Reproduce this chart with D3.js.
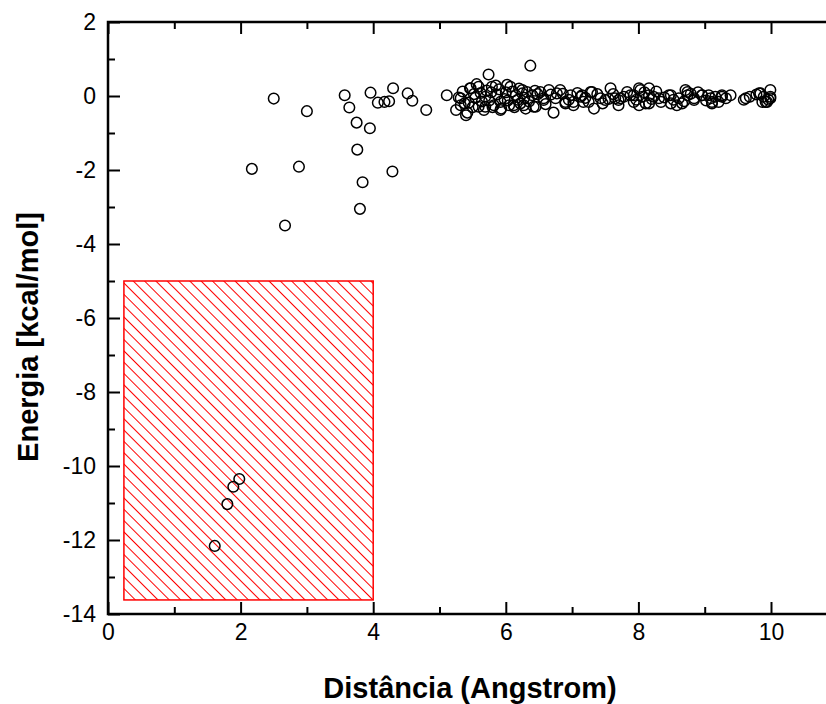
<!DOCTYPE html>
<html lang="en">
<head>
<meta charset="UTF-8">
<title>Energia vs Distância</title>
<script src="https://d3js.org/d3.v7.min.js"></script>
<style>
  body { margin: 0; background: #fff; }
  text { font-family: "Liberation Sans", Arial, sans-serif; }
</style>
</head>
<body>
<script>
// values
var distancia = [
  2.50, 3.00, 3.57, 3.96, 4.30, 4.52, 4.59, 4.80, 3.64, 4.07, 4.17, 4.24,
  3.75, 3.95, 3.76, 2.17, 2.88, 4.29, 3.84, 3.80, 2.67,
  1.98, 1.89, 1.80, 1.61,
  6.37, 5.74, 5.11, 5.29, 5.46, 5.59, 5.79, 6.07, 5.40, 5.32, 5.44, 5.67,
  5.93, 6.15, 5.54, 5.69, 5.87, 6.00, 5.82, 6.05, 6.22, 6.25, 5.59,
  6.32, 6.40, 6.27, 6.45, 6.57, 6.72, 6.75, 6.90, 6.98, 7.13, 7.17, 7.30,
  7.33, 7.43, 7.50, 7.58, 7.65, 6.52, 6.65, 6.82, 7.02, 7.25, 7.70,
  7.73, 7.83, 7.93, 8.01, 8.06, 8.16, 8.16, 8.31, 8.46, 8.49, 8.61, 8.71,
  8.74, 8.84, 8.96, 9.09, 8.16, 7.88, 8.01, 8.66,
  9.06, 9.16, 9.26, 9.39, 9.11, 9.21, 9.62, 9.82, 9.89, 9.99, 9.99, 9.94, 9.87,
  5.32, 5.47, 5.92, 6.25, 5.69, 5.92, 6.12, 6.30, 6.42, 6.57, 6.77, 6.90,
  7.02, 7.15, 7.28, 7.70, 7.93, 8.03, 8.11, 8.23, 8.34, 8.49, 8.58, 8.74,
  8.84, 8.96, 9.11, 9.26, 9.59, 9.84, 9.99, 9.92,
  5.35, 5.50, 5.62, 5.75, 5.85, 5.98, 6.10, 6.18, 5.25, 5.42, 5.56, 5.78,
  6.02, 6.35, 6.48,
  5.38, 5.52, 5.64, 5.71, 5.80, 5.90, 6.03, 6.13, 6.20, 6.28, 6.44, 6.60,
  6.68, 6.86, 6.95, 7.08, 7.20, 7.38, 7.46, 7.55, 7.62, 7.78, 7.97, 8.09,
  8.20, 8.27, 8.39, 8.53, 8.69, 8.79, 8.90, 9.02, 9.32, 9.68, 9.78, 9.96
];
var energia = [
  -0.07, -0.41, 0.02, 0.09, 0.21, 0.07, -0.13, -0.38, -0.31, -0.18, -0.16, -0.14,
  -0.72, -0.87, -1.45, -1.97, -1.91, -2.04, -2.33, -3.05, -3.50,
  -10.35, -10.56, -11.03, -12.16,
  0.82, 0.58, 0.02, -0.04, 0.21, 0.25, 0.25, 0.25, -0.52, -0.25, -0.18, -0.38,
  -0.34, 0.02, -0.05, -0.02, 0.04, 0.10, -0.25, -0.25, -0.20, 0.07, -0.29,
  0.11, 0.02, -0.25, -0.29, -0.06, -0.45, -0.06, -0.20, 0.02, -0.02, -0.16, 0.11,
  -0.34, -0.06, -0.11, 0.21, -0.06, 0.11, 0.16, 0.16, -0.16, -0.16, -0.25,
  -0.06, 0.11, -0.16, 0.21, -0.02, 0.02, -0.20, -0.06, 0.02, -0.20, -0.06, 0.16,
  0.02, -0.06, 0.02, -0.06, 0.21, 0.02, -0.25, -0.20,
  0.02, -0.02, -0.02, 0.02, -0.20, -0.16, -0.06, 0.07, -0.02, 0.16, -0.02, -0.16, -0.16,
  -0.06, 0.21, -0.16, 0.16, -0.29, -0.38, -0.25, -0.34, -0.29, -0.11, 0.07, -0.16,
  -0.25, 0.02, 0.11, -0.11, 0.02, 0.16, -0.20, -0.02, -0.16, 0.02, -0.25, 0.11,
  -0.11, 0.02, -0.16, 0.02, -0.10, 0.07, -0.06, -0.16,
  0.12, -0.30, 0.08, -0.12, 0.28, -0.08, 0.12, -0.10, -0.38, -0.45, 0.32, 0.10,
  0.30, -0.15, 0.05,
  -0.20, 0.05, -0.15, 0.15, -0.30, 0.18, -0.12, -0.30, 0.20, -0.05, 0.14, -0.22,
  0.04, 0.06, -0.10, 0.08, -0.05, 0.05, -0.20, -0.08, 0.05, -0.02, -0.10, 0.10,
  -0.08, 0.12, -0.04, -0.10, -0.14, 0.06, 0.10, -0.12, -0.06, -0.02, 0.04, -0.10
];
// shaded region
var regiaoX = [0.24, 4.0];
var regiaoY = [-13.62, -5.0];

var xMajor = [0, 2, 4, 6, 8, 10];
var xMinor = [1, 3, 5, 7, 9];
var yMajor = [2, 0, -2, -4, -6, -8, -10, -12, -14];
var yMinor = [1, -1, -3, -5, -7, -9, -11, -13];

var width = 826, height = 704;
var mLeft = 108, mTop = 22, mBottom = 614;

var x = d3.scaleLinear().domain([0, 11]).range([mLeft, mLeft + 11 * 66.3]);
var y = d3.scaleLinear().domain([-14, 2]).range([mBottom, mTop]);
var mRight = x(11);

var svg = d3.select("body").append("svg")
  .attr("width", width)
  .attr("height", height);

svg.append("rect").attr("width", width).attr("height", height).attr("fill", "#fff");

// hatch
var defs = svg.append("defs");
defs.append("pattern")
  .attr("id", "hatch")
  .attr("patternUnits", "userSpaceOnUse")
  .attr("width", 8).attr("height", 8)
  .attr("patternTransform", "rotate(45)")
  .append("rect")
  .attr("x", 0).attr("y", 0).attr("width", 8).attr("height", 1)
  .attr("fill", "#ff0000");

svg.append("rect")
  .attr("x", x(regiaoX[0]))
  .attr("y", y(regiaoY[1]))
  .attr("width", x(regiaoX[1]) - x(regiaoX[0]))
  .attr("height", y(regiaoY[0]) - y(regiaoY[1]))
  .attr("fill", "url(#hatch)")
  .attr("stroke", "#ff0000")
  .attr("stroke-width", 1.5);

// points
svg.append("g").selectAll("circle")
  .data(distancia)
  .enter().append("circle")
  .attr("cx", function(d) { return x(d); })
  .attr("cy", function(d, i) { return y(energia[i]); })
  .attr("r", 5.3)
  .attr("fill", "none")
  .attr("stroke", "#000")
  .attr("stroke-width", 1.5);

// axes, ticks pointing inwards
function styleAxis(g) {
  g.select(".domain").remove();
  g.selectAll(".tick line").attr("stroke", "#000").attr("stroke-width", 2);
  g.selectAll(".tick text")
    .attr("fill", "#000")
    .style("font-size", "23px");
}
var fmt = function(d) { return String(d); };

svg.append("g").attr("transform", "translate(0," + mBottom + ")")
  .call(d3.axisBottom(x).tickValues(xMajor).tickSize(-12).tickPadding(10).tickFormat(fmt))
  .call(styleAxis);
svg.append("g").attr("transform", "translate(0," + mBottom + ")")
  .call(d3.axisBottom(x).tickValues(xMinor).tickSize(-7).tickFormat(""))
  .call(styleAxis);
svg.append("g").attr("transform", "translate(0," + mTop + ")")
  .call(d3.axisTop(x).tickValues(xMajor).tickSize(-12).tickFormat(""))
  .call(styleAxis);
svg.append("g").attr("transform", "translate(0," + mTop + ")")
  .call(d3.axisTop(x).tickValues(xMinor).tickSize(-7).tickFormat(""))
  .call(styleAxis);

svg.append("g").attr("transform", "translate(" + mLeft + ",0)")
  .call(d3.axisLeft(y).tickValues(yMajor).tickSize(-12).tickPadding(12).tickFormat(fmt))
  .call(styleAxis);
svg.append("g").attr("transform", "translate(" + mLeft + ",0)")
  .call(d3.axisLeft(y).tickValues(yMinor).tickSize(-7).tickFormat(""))
  .call(styleAxis);
svg.append("g").attr("transform", "translate(" + mRight + ",0)")
  .call(d3.axisRight(y).tickValues(yMajor).tickSize(-11).tickFormat(""))
  .call(styleAxis);

// frame
svg.append("rect")
  .attr("x", mLeft).attr("y", mTop)
  .attr("width", mRight - mLeft).attr("height", mBottom - mTop)
  .attr("fill", "none")
  .attr("stroke", "#000")
  .attr("stroke-width", 2.5);

// titles
svg.append("text")
  .attr("x", 470)
  .attr("y", 698)
  .attr("text-anchor", "middle")
  .style("font-size", "29px")
  .style("font-weight", "bold")
  .text("Distância (Angstrom)");

svg.append("text")
  .attr("transform", "translate(38,337) rotate(-90)")
  .attr("text-anchor", "middle")
  .style("font-size", "29px")
  .style("font-weight", "bold")
  .text("Energia [kcal/mol]");
</script>
</body>
</html>
